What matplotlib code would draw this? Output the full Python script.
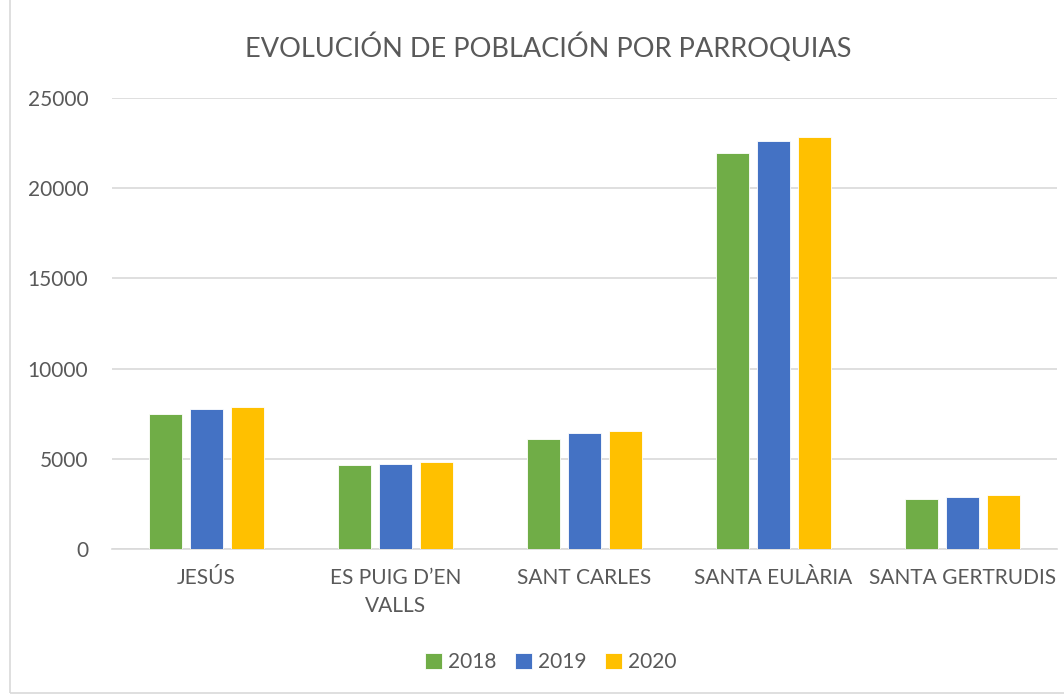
import numpy as np
import matplotlib.pyplot as plt
from matplotlib.patches import Rectangle

plt.rcParams['font.family'] = ['Lato', 'DejaVu Sans']

categories = ['JESÚS', 'ES PUIG D\u2019EN\nVALLS', 'SANT CARLES', 'SANTA EULÀRIA', 'SANTA GERTRUDIS']
years = ['2018', '2019', '2020']
pob_2018 = [7480, 4670, 6110, 21970, 2770]
pob_2019 = [7735, 4725, 6425, 22635, 2895]
pob_2020 = [7845, 4800, 6535, 22840, 2970]
colors = ['#70AD47', '#4472C4', '#FFC000']
text_color = '#595959'

fig = plt.figure(figsize=(10.64, 6.98), dpi=100)
ax = fig.add_axes([112 / 1064, 1 - 549 / 698, 945 / 1064, 451 / 698])

x = np.arange(len(categories))
width = 0.175
offset = 0.217
for i, (vals, yr) in enumerate(zip([pob_2018, pob_2019, pob_2020], years)):
    ax.bar(x + (i - 1) * offset, vals, width, color=colors[i], label=yr,
           edgecolor='white', linewidth=0.6, zorder=3)

ax.set_xlim(-0.5, len(categories) - 0.5)
ax.set_ylim(0, 25000)
ax.set_yticks(range(0, 25001, 5000))
ax.set_xticks(x)
ax.set_xticklabels(categories, linespacing=1.5)
ax.tick_params(axis='both', length=0, labelsize=15, colors=text_color)
ax.tick_params(axis='x', pad=14)
ax.tick_params(axis='y', pad=17)
ax.grid(axis='y', color='#D9D9D9', linewidth=1.2, zorder=0)
for s in ['top', 'right', 'left']:
    ax.spines[s].set_visible(False)
ax.spines['bottom'].set_color('#D9D9D9')
ax.spines['bottom'].set_linewidth(1.2)

fig.text(548 / 1064, 1 - 47 / 698, 'EVOLUCIÓN DE POBLACIÓN POR PARROQUIAS',
         ha='center', va='center', fontsize=19.5, color=text_color)

fig.legend(loc='center', bbox_to_anchor=(551 / 1064, 1 - 662 / 698), ncol=3,
           frameon=False, fontsize=15, labelcolor=text_color,
           handlelength=0.8, handleheight=0.8, handletextpad=0.3, columnspacing=0.9)

fig.patches.append(Rectangle((10 / 1064, 5 / 698), 1.2, 1.2, transform=fig.transFigure,
                             fill=False, edgecolor='#D9D9D9', linewidth=1.2))

fig.savefig('out.png', dpi=100)
